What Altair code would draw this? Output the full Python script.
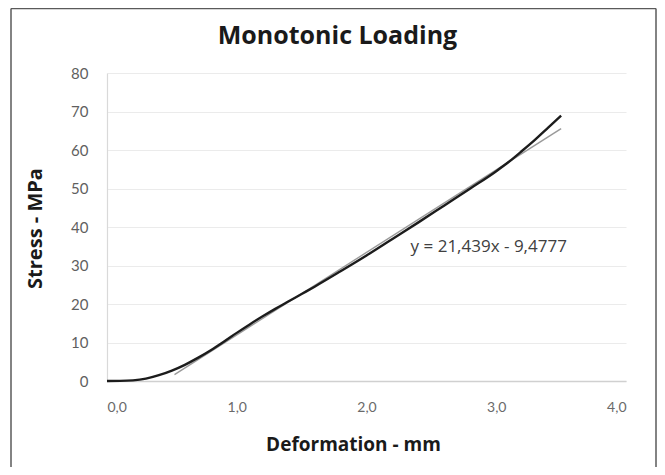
import altair as alt
import pandas as pd

# ---- data ----
deformation = [0.0, 0.1, 0.2, 0.3, 0.4, 0.5, 0.6, 0.7, 0.8, 0.9, 1.0, 1.1, 1.2,
               1.3, 1.4, 1.5, 1.6, 1.8, 2.0, 2.2, 2.4, 2.6, 2.8, 3.0, 3.1, 3.2,
               3.3, 3.4, 3.5]
stress = [0.0, 0.02, 0.15, 0.6, 1.5, 2.7, 4.2, 6.0, 8.0, 10.2, 12.5, 14.7, 16.8,
          18.8, 20.7, 22.6, 24.5, 28.5, 32.6, 36.9, 41.2, 45.6, 50.0, 54.5, 57.0,
          59.8, 62.7, 65.8, 68.9]
trend_x = [0.52, 3.5]
trend_y = [1.67, 65.56]
eq_label = ["y = 21,439x - 9,4777"]
eq_x = [2.34]
eq_y = [34.9]
x_ticks = [0, 1, 2, 3, 4]
y_ticks = [0, 10, 20, 30, 40, 50, 60, 70, 80]

curve = pd.DataFrame({"x": deformation, "y": stress})
trend = pd.DataFrame({"x": trend_x, "y": trend_y})
eq = pd.DataFrame({"x": eq_x, "y": eq_y, "t": eq_label})

FONT = "Lato"
TFONT = "Open Sans"
xscale = alt.Scale(domain=[0, 4], nice=False)
yscale = alt.Scale(domain=[0, 80], nice=False)

xaxis = alt.Axis(
    values=x_ticks,
    labelExpr="replace(format(datum.value, '.1f'), '.', ',')",
    title="Deformation - mm",
    grid=False, ticks=False, labelOverlap=False,
    domainColor="#d0d0d0", domainWidth=1.5,
    labelPadding=19, labelFontSize=14, labelColor="#6a6a6a", labelFont=FONT,
    titleFont=TFONT, titleFontSize=19, titleFontWeight="bold", titleColor="#1a1a1a",
    titleX=246, titleY=63, titleBaseline="middle", titleAlign="center",
)
yaxis = alt.Axis(
    values=y_ticks, tickCount=9,
    title="Stress - MPa",
    grid=True, gridColor="#ebebeb", gridWidth=1.2,
    ticks=False, labelOverlap=False, labelFlush=False,
    domainColor="#d9d9d9", domainWidth=1.2,
    labelPadding=19, labelFontSize=15, labelColor="#5f5f5f", labelFont=FONT,
    titleFont=TFONT, titleFontSize=20, titleFontWeight="bold", titleColor="#1a1a1a",
    titleX=-72, titleY=155, titleBaseline="middle", titleAlign="center", titleAngle=-90,
)

X = alt.X("x:Q", scale=xscale, axis=xaxis)
Y = alt.Y("y:Q", scale=yscale, axis=yaxis)

trend_layer = alt.Chart(trend).mark_line(color="#9a9a9a", strokeWidth=1.4).encode(
    x=X, y=Y,
)
curve_layer = alt.Chart(curve).mark_line(
    color="#1c1c1c", strokeWidth=2.4, interpolate="monotone"
).encode(x=X, y=Y)

eq_layer = alt.Chart(eq).mark_text(
    align="left", baseline="middle", font=TFONT, fontSize=17, color="#404040"
).encode(x=X, y=Y, text="t:N")

border = alt.Chart(alt.Data(values=[{}])).mark_rule(color="#5a5a5a", strokeWidth=1.5)
b_left = border.encode(x=alt.value(-96), y=alt.value(-64.5), y2=alt.value(400))
b_top = border.encode(x=alt.value(-96), x2=alt.value(549), y=alt.value(-64.5))
b_right = border.encode(x=alt.value(549), y=alt.value(-64.5), y2=alt.value(400))

chart = alt.layer(
    trend_layer, curve_layer, eq_layer, b_left, b_top, b_right
).properties(
    width=519,
    height=308,
    title=alt.Title(
        "Monotonic Loading", font=TFONT, fontSize=25, fontWeight="bold",
        color="#1a1a1a", anchor="middle", dx=-29, offset=0, dy=61,
        baseline="alphabetic",
    ),
    autosize=alt.AutoSizeParams(type="none"),
    padding={"left": 99, "top": 65, "right": 31, "bottom": 86},
).configure_view(stroke=None)

chart.save("out.html", embed_options={"renderer": "svg", "actions": False})
